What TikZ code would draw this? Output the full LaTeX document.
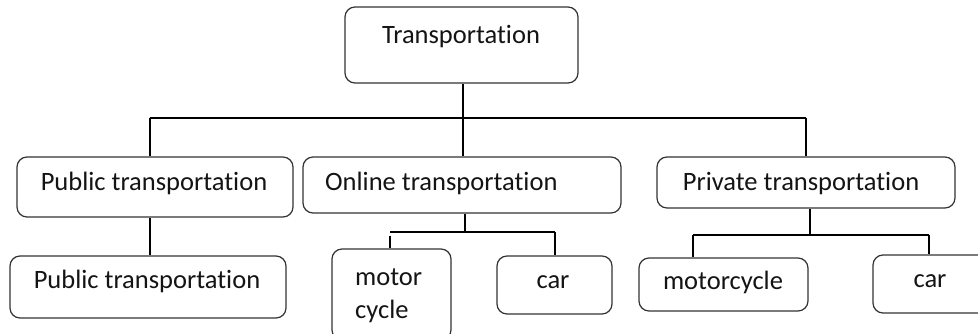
\documentclass[tikz,border=0pt]{standalone}
\usepackage{fontspec}
\setmainfont[Ligatures={NoCommon}]{Carlito}
\begin{document}
\begin{tikzpicture}[x=1pt,y=-1pt,
  box/.style={draw=black!80, line width=1.2pt, rounded corners=10pt, inner sep=0pt, anchor=center},
  lbl/.style={anchor=base, inner sep=0pt, text=black!92, font=\fontsize{26.5}{30}\selectfont},
  wire/.style={draw=black, line width=1.1pt}]
  \clip (0,0) rectangle (978,333);
  \fill[white] (0,0) rectangle (978,333);

  % boxes
  \node[box, minimum width=233pt, minimum height=76pt] (top)  at (461.5,45)  {};
  \node[box, minimum width=276pt, minimum height=60pt] (pub)  at (155,187)   {};
  \node[box, minimum width=276pt, minimum height=62pt] (pubb) at (148,287)   {};
  \node[box, minimum width=318pt, minimum height=56pt] (onl)  at (462,185)   {};
  \node[box, minimum width=119pt, minimum height=91pt] (omc)  at (391.5,294.5) {};
  \node[box, minimum width=115pt, minimum height=58pt] (ocar) at (554.5,285) {};
  \node[box, minimum width=298pt, minimum height=51pt] (prv)  at (806,182.5) {};
  \node[box, minimum width=169pt, minimum height=53pt] (pmc)  at (723.5,284.5) {};
  \node[box, minimum width=117pt, minimum height=58pt] (pcar) at (931.5,284) {};

  % labels
  \node[lbl] (topt)  at (461,43)  {Transportation};
  \node[lbl] (pubt)  at (154,190) {Public transportation};
  \node[lbl] (pubbt) at (147,288) {Public transportation};
  \node[lbl, anchor=base west] (onlt) at (325,190) {Online transportation};
  \node[lbl, anchor=base west] (omct1) at (355,285) {motor};
  \node[lbl, anchor=base west] (omct2) at (355,318) {cycle};
  \node[lbl] (ocart) at (553,288) {car};
  \node[lbl] (prvt)  at (801,190) {Private transportation};
  \node[lbl] (pmct)  at (723,289) {motorcycle};
  \node[lbl] (pcart) at (930,287) {car};

  % main bus
  \coordinate (bus)  at (463,118);
  \coordinate (busl) at (150,118);
  \coordinate (busr) at (806,118);
  \draw[wire] (top.south -| bus) -- (bus);
  \draw[wire] (busl) -- (busr);
  \draw[wire] (busl) -- (busl |- pub.north);
  \draw[wire] (bus)  -- (bus |- onl.north);
  \draw[wire] (busr) -- (busr |- prv.north);

  % public branch
  \draw[wire] (pub.south -| busl) -- (busl |- pubb.north);

  % online branch
  \coordinate (ob)  at (465,232);
  \coordinate (obl) at (390,232);
  \coordinate (obr) at (555,232);
  \draw[wire] (onl.south -| ob) -- (ob);
  \draw[wire] (obl) -- (obr);
  \draw[wire] ([yshift=-4pt]obl) -- (obl |- omc.north);
  \draw[wire] (obr) -- (obr |- ocar.north);

  % private branch
  \coordinate (pb)  at (810,235);
  \coordinate (pbl) at (693,235);
  \coordinate (pbr) at (929,235);
  \draw[wire] (prv.south -| pb) -- (pb);
  \draw[wire] (pbl) -- (pbr);
  \draw[wire] (pbl) -- (pbl |- pmc.north);
  \draw[wire] (pbr) -- (pbr |- pcar.north);
\end{tikzpicture}
\end{document}
